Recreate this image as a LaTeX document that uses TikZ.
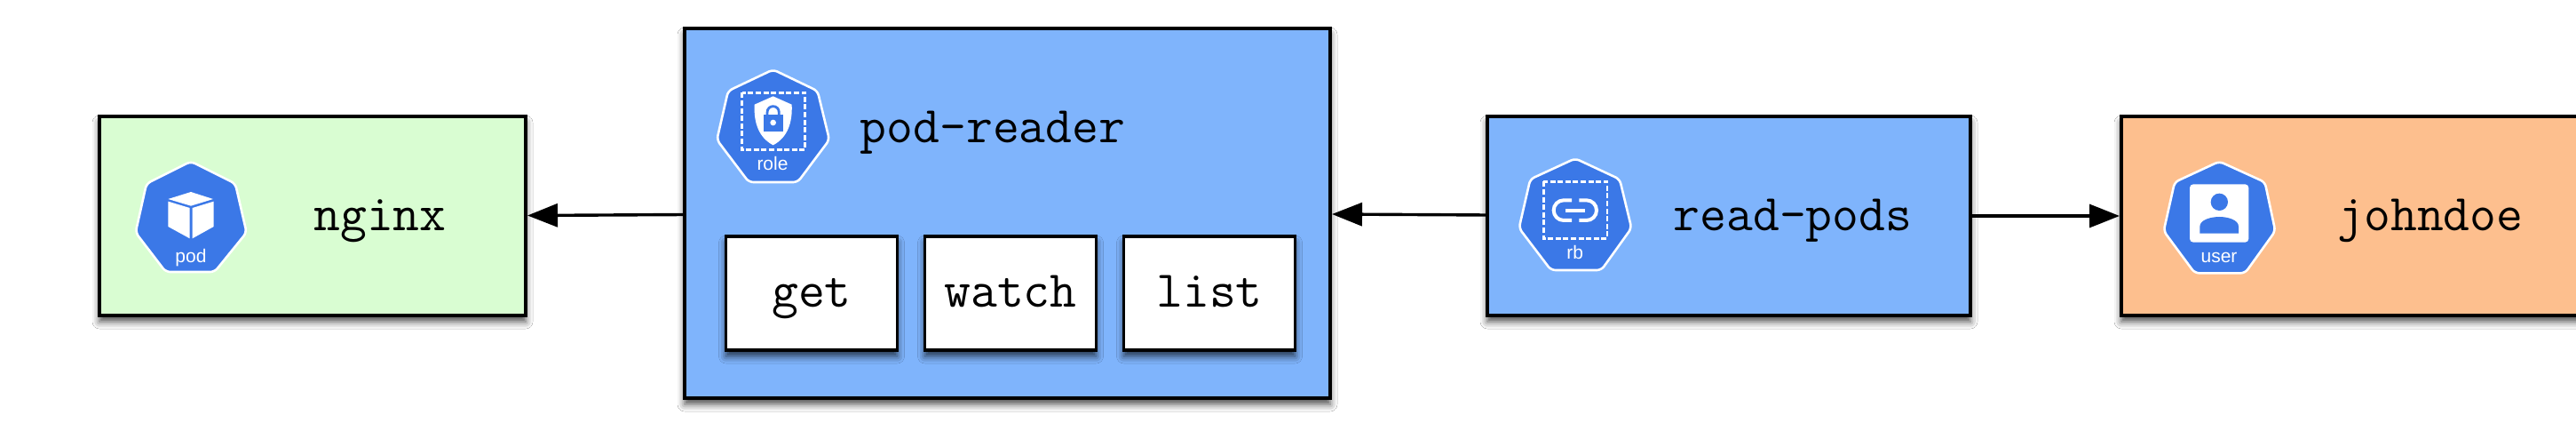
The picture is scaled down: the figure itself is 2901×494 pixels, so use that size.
\documentclass[tikz,border=0pt]{standalone}
\usepackage{fontspec}
\setsansfont{Liberation Sans}
\usetikzlibrary{arrows.meta,shadows.blur}
\definecolor{kblue}{HTML}{3B78E7}
\definecolor{boxgreen}{HTML}{D9FDD2}
\definecolor{boxblue}{HTML}{7FB4FC}
\definecolor{boxorange}{HTML}{FDBF8E}
\tikzset{
  softshadow/.style={blur shadow={shadow xshift=0pt,shadow yshift=-7pt,shadow blur radius=8pt,shadow opacity=70}},
  box/.style={draw=black,line width=4pt,inner sep=0pt,outer sep=0pt,softshadow},
  verb/.style={box,line width=3.8pt,fill=white,minimum width=193pt,minimum height=128pt,
    font=\fontsize{58}{58}\selectfont\ttfamily,text height=34pt,text depth=4pt},
  title/.style={anchor=base,inner sep=0pt,font=\fontsize{58}{58}\selectfont\ttfamily},
  link/.style={draw=black,line width=3.4pt,-{Triangle[length=34pt,width=26pt]},shorten >=0pt},
  hept/.style={fill=kblue,draw=white,line width=2.6pt,rounded corners=5pt},
  icontext/.style={anchor=base,inner sep=0pt,text=white,font=\fontsize{21}{21}\selectfont\sffamily},
  zoomed/.style={x=0.33333pt,y=-0.33333pt},
  frame/.style={draw=white,line width=2.4pt,dash pattern=on 6pt off 2.6pt},
}
\begin{document}
\begin{tikzpicture}[x=1pt,y=-1pt]
\path[use as bounding box,fill=white] (0,0) rectangle (2901,494);

% boxes
\node[box,fill=boxgreen,minimum width=480pt,minimum height=224pt] (nginxbox) at (352,243) {};
\node[box,fill=boxblue,minimum width=727pt,minimum height=416pt] (rolebox) at (1134.5,240) {};
\node[box,fill=boxblue,minimum width=544pt,minimum height=224pt] (rbbox) at (1947,243) {};
\node[box,fill=boxorange,minimum width=530pt,minimum height=224pt] (userbox) at (2654,243) {};

% verbs
\node[verb] (get) at (914,330) {get};
\node[verb] (watch) at (1138,330) {watch};
\node[verb] (list) at (1362,330) {list};

% titles
\node[title] (nginx) at (428,260) {nginx};
\node[title] (podreader) at (1118,161) {pod-reader};
\node[title] (readpods) at (2019,260) {read-pods};
\node[title] (johndoe) at (2737,260) {johndoe};

% connectors
\draw[link] ([yshift=-1.5pt]rolebox.west) -- ([xshift=2pt,yshift=0.5pt]nginxbox.east);
\draw[link] ([yshift=1pt]rbbox.west) -- ([xshift=2pt,yshift=-1pt]rolebox.east);
\draw[link] (rbbox.east) -- ([xshift=-2pt]userbox.west);

% pod icon
\begin{scope}[shift={(140,170)},zoomed]
  \path[hept] (225,35) -- (375,110) -- (413,275) -- (305,408) -- (140,408) -- (38,275) -- (75,110) -- cycle;
  \fill[white] (148,162) -- (225,138) -- (300,162) -- (225,185) -- cycle;
  \fill[white] (148,170) -- (221,192) -- (221,295) -- (148,255) -- cycle;
  \fill[white] (230,192) -- (302,170) -- (302,255) -- (230,295) -- cycle;
  \node[icontext] (podlabel) at (225,378) {pod};
\end{scope}

% role icon
\begin{scope}[shift={(790,70)},zoomed]
  \path[hept] (242,25) -- (392,97) -- (432,262) -- (325,405) -- (160,405) -- (52,262) -- (90,97) -- cycle;
  \draw[frame] (137,103) rectangle (350,296);
  \fill[white] (242,115) -- (305,143) .. controls (308,205) and (290,255) .. (242,280)
     .. controls (194,255) and (176,205) .. (179,143) -- cycle;
  \draw[kblue,line width=2.8pt] (222,180) -- (222,170) .. controls (222,142) and (262,142) .. (262,170) -- (262,180);
  \fill[kblue] (210,178) rectangle (275,235);
  \fill[white] (242,204) circle (10);
  \node[icontext] (rolelabel) at (240,365) {role};
\end{scope}

% rb icon
\begin{scope}[shift={(1695,170)},zoomed]
  \path[hept] (237,25) -- (387,95) -- (427,260) -- (325,402) -- (155,402) -- (47,260) -- (85,95) -- cycle;
  \draw[frame] (130,103) rectangle (345,295);
  \draw[white,line width=4pt] (225,166) -- (198,166) arc[start angle=-90,end angle=-270,radius=34] -- (225,234);
  \draw[white,line width=4pt] (250,166) -- (275,166) arc[start angle=-90,end angle=90,radius=34] -- (250,234);
  \draw[white,line width=4pt] (205,200) -- (270,200);
  \node[icontext] (rblabel) at (236,365) {rb};
\end{scope}

% user icon
\begin{scope}[shift={(2420,170)},zoomed]
  \path[hept] (238,35) -- (392,105) -- (427,270) -- (325,412) -- (155,412) -- (50,270) -- (87,105) -- cycle;
  \fill[white,rounded corners=4pt] (138,112) rectangle (337,308);
  \fill[kblue] (238,172) circle (29);
  \fill[kblue] (172,278) -- (172,255) .. controls (172,232) and (210,222) .. (238,222)
     .. controls (266,222) and (303,232) .. (303,255) -- (303,278) -- cycle;
  \node[icontext] (userlabel) at (237,377) {user};
\end{scope}
\end{tikzpicture}
\end{document}
